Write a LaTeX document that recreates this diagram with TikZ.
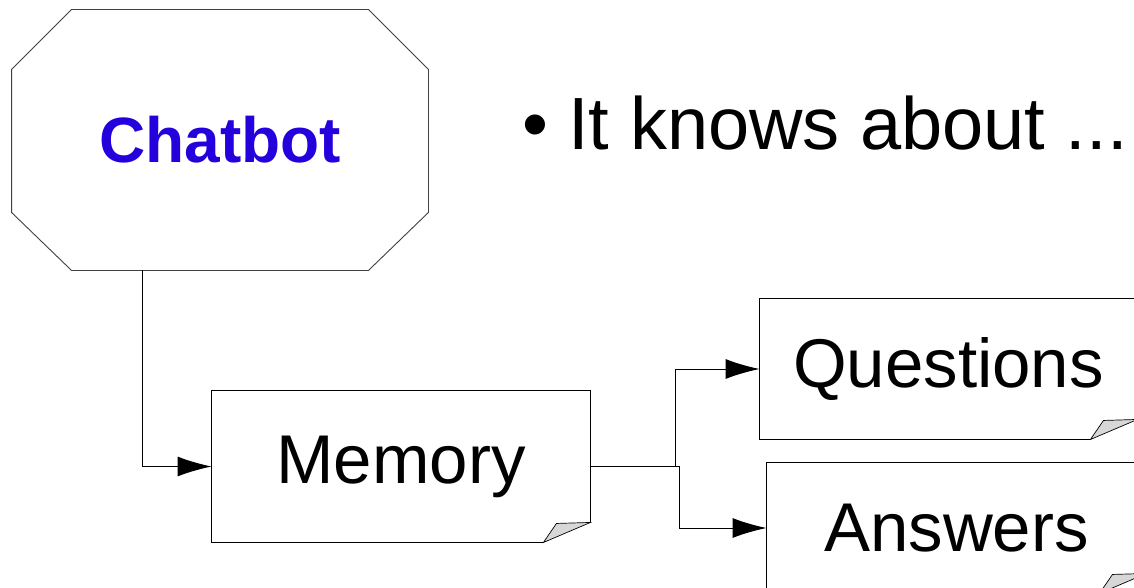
\documentclass[tikz,border=0pt]{standalone}
\usepackage{fontspec}
\setmainfont{Liberation Sans}
\usetikzlibrary{arrows.meta,calc}
\definecolor{botblue}{RGB}{35,0,220}
\definecolor{foldgrey}{RGB}{215,215,215}

\begin{document}
\begin{tikzpicture}[x=1pt, y=-1pt, line width=0.9pt,
	card/.style={inner sep=0pt, minimum width=378pt, font=\fontsize{69}{72}\selectfont},
	link/.style={-{Latex[length=34pt,width=20pt]}}]
	\useasboundingbox (0,0) rectangle (1134,588);
	
	  \node[inner sep=0pt, minimum width=416pt, minimum height=260pt,
	        font=\bfseries\fontsize{64}{68}\selectfont, text=botblue] (chatbot) at (220,140) {Chatbot};
	  \draw[black!75] ($(chatbot.north west)+(60,0)$) -- ($(chatbot.north east)+(-60,0)$)
	        -- ($(chatbot.north east)+(0,60)$) -- ($(chatbot.south east)+(0,-58)$)
	        -- ($(chatbot.south east)+(-60,0)$) -- ($(chatbot.south west)+(60,0)$)
	        -- ($(chatbot.south west)+(0,-58)$) -- ($(chatbot.north west)+(0,60)$) -- cycle;
	
	  \node[anchor=base west, inner sep=0pt, font=\fontsize{74}{78}\selectfont] (knows) at (522,150)
	        {•\hspace{20pt}It knows about ...};
	
	  \node[card, minimum height=151pt] (memory) at (401,466.5) {Memory};
	  \node[card, minimum height=140pt, minimum width=377pt] (questions) at (948.5,369) {Questions};
	  \node[card, minimum height=130pt, minimum width=379pt] (answers) at (956.5,528) {Answers};
	
	  % note outlines with the folded corner
	  \foreach \n in {memory,questions,answers} {
	    \draw ($(\n.south east)+(-47,0)$) -- (\n.south west) -- (\n.north west)
	          -- (\n.north east) -- ($(\n.south east)+(0,-20)$);
	    \draw[fill=foldgrey, line width=0.7pt] ($(\n.south east)+(-47,0)$) -- ($(\n.south east)+(-34,-19)$)
	          -- ($(\n.south east)+(0,-20)$) -- cycle;
	  }
	
	  \coordinate (drop) at ($(chatbot.south)+(-78,0)$);
	  \draw[link] (drop) |- (memory.west);
	  \draw[link] (memory.east) -- ++(85,0) |- (questions.west);
	  \draw[link] (memory.east) -- ++(89,0) |- (answers.west);
	
	\end{tikzpicture}
\end{document}
